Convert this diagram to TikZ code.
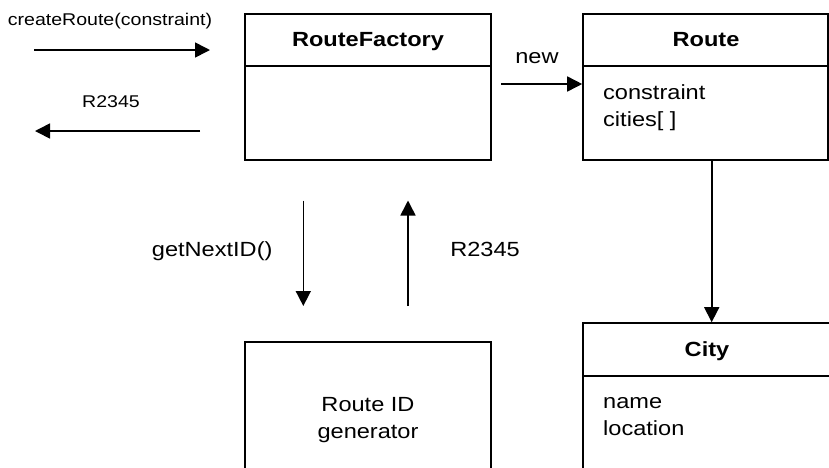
\documentclass[tikz,border=0pt]{standalone}
\usepackage{fontspec}
\setmainfont{Liberation Sans}[FakeStretch=1.15]
\usetikzlibrary{arrows.meta}
\tikzset{
  box/.style={draw, line width=1.6pt, rectangle, inner sep=0pt},
  sep/.style={line width=1.6pt},
  arr/.style={line width=1.6pt, -{Triangle[length=15pt,width=15pt]}},
  lbl/.style={inner sep=0pt, anchor=base, font=\fontsize{20.5}{27}\selectfont},
  smalllbl/.style={inner sep=0pt, anchor=base, font=\fontsize{17}{22}\selectfont},
  ttl/.style={inner sep=0pt, anchor=base, font=\fontsize{20.5}{27}\selectfont\bfseries},
  attr/.style={inner sep=0pt, anchor=base west, align=left, font=\fontsize{20.5}{27}\selectfont},
}
\begin{document}
\begin{tikzpicture}[x=1pt,y=-1pt]
\useasboundingbox (0,0) rectangle (829,467);
\clip (0,0) rectangle (829,467);
% RouteFactory
\node[box, minimum width=246pt, minimum height=146pt] (rf) at (368,87) {};
\node[ttl] (rft) at (368,46.7) {RouteFactory};
\draw[sep] (rf.west |- 0,66) -- (rf.east |- 0,66);
% Route
\node[box, minimum width=245pt, minimum height=146pt] (rt) at (705.5,87) {};
\node[ttl] (rtt) at (706,46.7) {Route};
\draw[sep] (rt.west |- 0,66) -- (rt.east |- 0,66);
\node[attr] (rta) at (603,126) {constraint\\cities[ ]};
% City
\node[box, minimum width=248pt, minimum height=180pt] (city) at (707,413) {};
\node[ttl] (cityt) at (707,356) {City};
\draw[sep] (city.west |- 0,376) -- (city.east |- 0,376);
\node[attr] (citya) at (603,435) {name\\location};
% Route ID generator
\node[box, minimum width=246pt, minimum height=180pt] (gen) at (368,432) {};
\node[lbl, align=center] (gent) at (368,438.5) {Route ID\\generator};
% left messages
\coordinate (c1a) at (34,50);
\coordinate (c1b) at (210,50);
\draw[arr] (c1a) -- (c1b);
\node[smalllbl] (l1) at (110,25) {createRoute(constraint)};
\coordinate (c2a) at (200,131);
\coordinate (c2b) at (35,131);
\draw[arr] (c2a) -- (c2b);
\node[smalllbl] (l2) at (111,107.3) {R2345};
% new
\coordinate (c3a) at (501,84);
\draw[arr] (c3a) -- (rt.west |- c3a);
\node[lbl] (l3) at (537,63.3) {new};
% vertical messages
\coordinate (c4a) at (303.3,200.5);
\coordinate (c4b) at (303.3,306);
\draw[arr] (c4a) -- (c4b);
\node[lbl] (l4) at (212.2,256) {getNextID()};
\coordinate (c5a) at (408,306);
\coordinate (c5b) at (408,200.5);
\draw[arr] (c5a) -- (c5b);
\node[lbl] (l5) at (485,256) {R2345};
% Route -> City
\draw[arr] (rt.south -| 711.7,0) -- (city.north -| 711.7,0);
\end{tikzpicture}
\end{document}
